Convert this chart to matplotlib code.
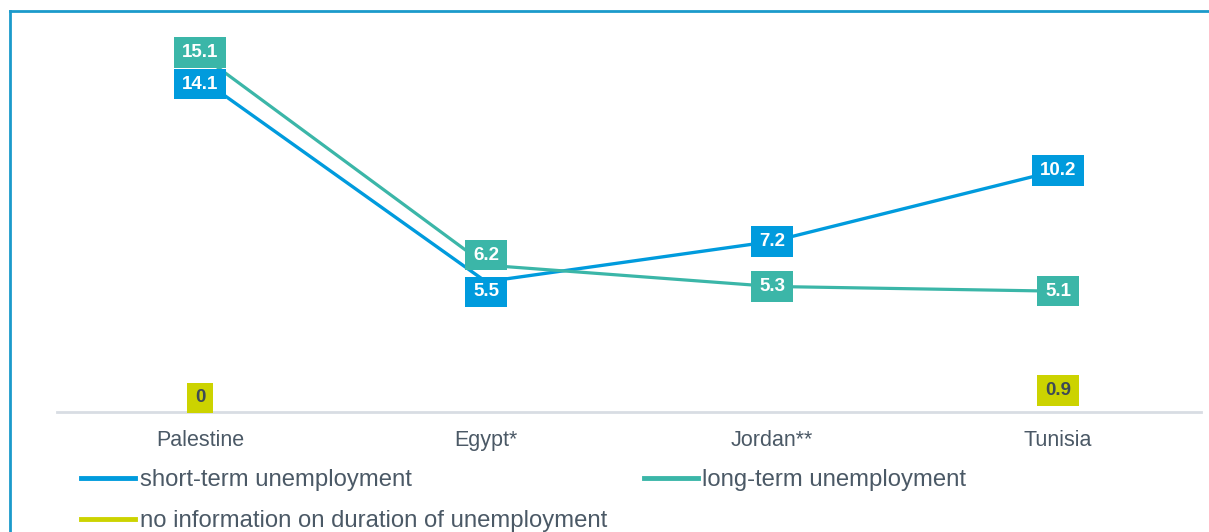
import numpy as np
import matplotlib
matplotlib.use("Agg")
import matplotlib.pyplot as plt
from matplotlib.lines import Line2D

# Data
countries = ["Palestine", "Egypt*", "Jordan**", "Tunisia"]
short_term = [14.1, 5.5, 7.2, 10.2]
long_term = [15.1, 6.2, 5.3, 5.1]
no_info = [0, np.nan, np.nan, 0.9]

series_names = ["short-term unemployment", "long-term unemployment",
                "no information on duration of unemployment"]

# Style
blue = "#009BDD"
teal = "#3BB6A8"
yellow = "#CCD300"
text_gray = "#4B5966"
dark_label = "#3E4A56"
frame_col = "#1B9ACB"

plt.rcParams["font.family"] = ["Liberation Sans", "DejaVu Sans"]

W, H = 1209, 532
fig = plt.figure(figsize=(W / 100, H / 100), dpi=100)
ax = fig.add_axes([57 / W, (H - 412) / H, (1201 - 57) / W, 379 / H])

x = np.arange(len(countries))

ax.plot(x, short_term, color=blue, lw=2.4, zorder=2, solid_capstyle="butt")
ax.plot(x, long_term, color=teal, lw=2.3, zorder=2, solid_capstyle="butt")
ax.plot(x, no_info, color=yellow, lw=2.3, zorder=2)

# label offsets in pixels (dy, positive = up)
short_dy = [-6, -10, 0, 0]
long_dy = [2, 10, 0, 0]
noinfo_dy = [14, 0, 0, 0]

def box_label(xi, yi, dy, fc, tc):
    if np.isnan(yi):
        return
    txt = "{:g}".format(yi)
    ax.annotate(txt, (xi, yi), xytext=(0, dy * 0.72), textcoords="offset points",
                ha="center", va="center", fontsize=13.5, fontweight="bold",
                color=tc, zorder=5, annotation_clip=False,
                bbox=dict(boxstyle="square,pad=0.42", fc=fc, ec="none",
                          mutation_aspect=0.85))

for i in range(len(countries)):
    box_label(x[i], long_term[i], long_dy[i], teal, "white")
    box_label(x[i], short_term[i], short_dy[i], blue, "white")
    box_label(x[i], no_info[i], noinfo_dy[i], yellow, dark_label)

ax.set_xlim(-0.5, 3.5)
ax.set_ylim(0, 16)
ax.set_xticks(x)
ax.set_xticklabels(countries, fontsize=15.5, color=text_gray)
ax.tick_params(axis="x", length=0, pad=13)
ax.set_yticks([])
for s in ["top", "right", "left"]:
    ax.spines[s].set_visible(False)
ax.spines["bottom"].set_color("#D8DDE3")
ax.spines["bottom"].set_linewidth(2)

# legend (row order: short, long / no info)
handles = [Line2D([], [], color=blue, lw=3.5),
           Line2D([], [], color=yellow, lw=3.5),
           Line2D([], [], color=teal, lw=3.5)]
labels = [series_names[0], series_names[2], series_names[1]]
leg = fig.legend(handles, labels, ncol=2, loc="upper left",
                 bbox_to_anchor=(81 / W, 1 - 469 / H), frameon=False,
                 borderpad=0, borderaxespad=0, fontsize=17.2,
                 handlelength=2.25, handletextpad=0.2, columnspacing=1.55,
                 labelspacing=0.8, labelcolor=text_gray)

# outer frame (top and left edges visible)
fx = 10 / W
fy = 1 - 10.5 / H
fig.add_artist(Line2D([fx, 1.01], [fy, fy], transform=fig.transFigure,
                      color=frame_col, lw=2))
fig.add_artist(Line2D([fx, fx], [fy, -0.01], transform=fig.transFigure,
                      color=frame_col, lw=2))

fig.savefig("out.png", dpi=100, facecolor="white")
